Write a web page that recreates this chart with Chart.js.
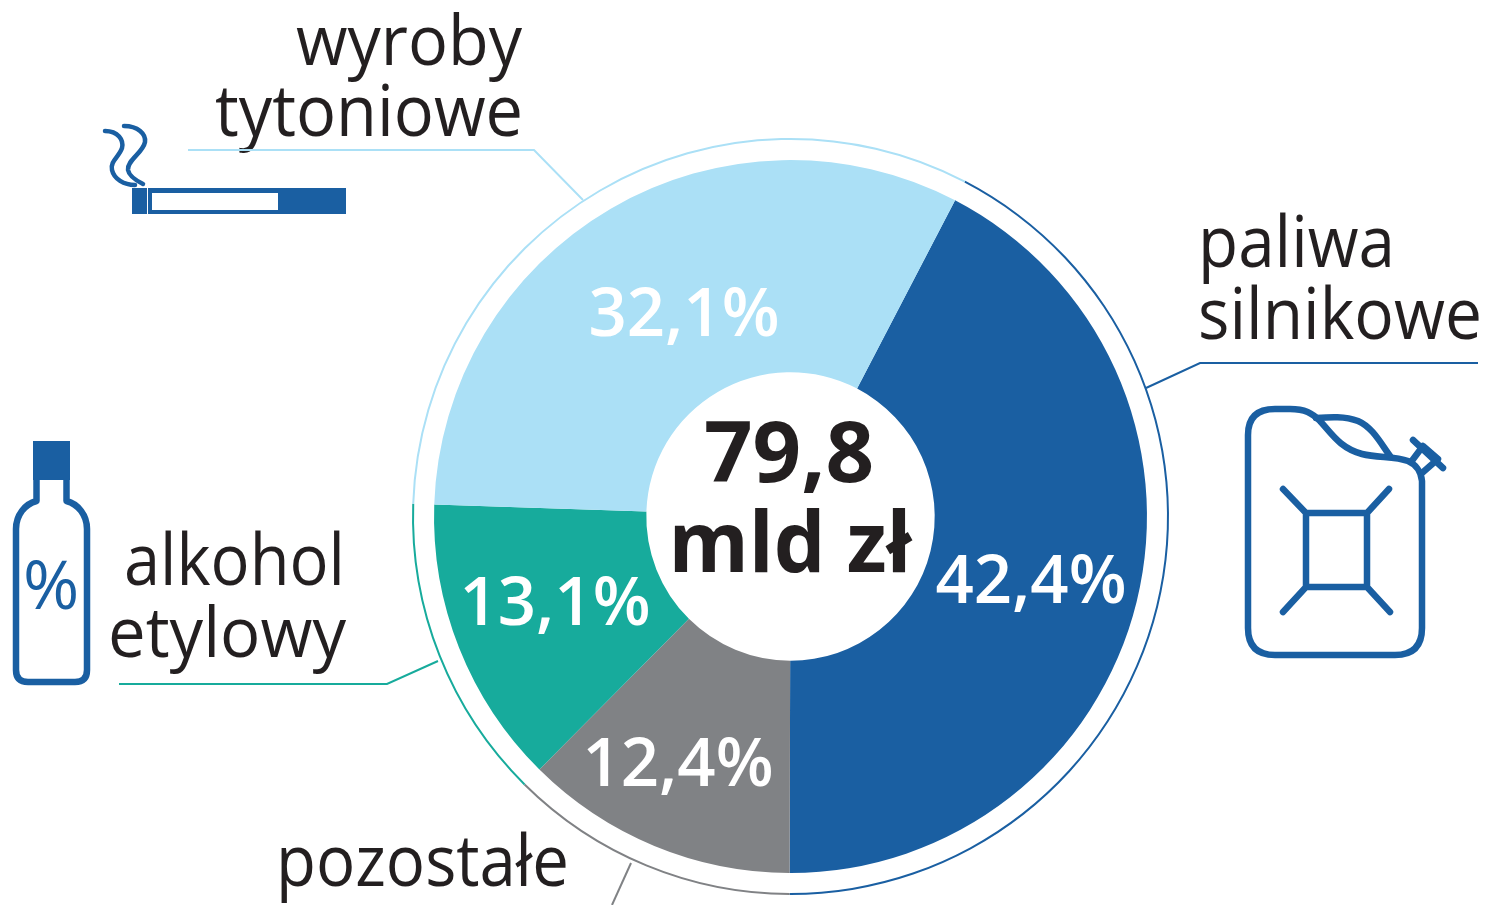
<!DOCTYPE html>
<html lang="pl"><head><meta charset="utf-8">
<style>html,body{margin:0;padding:0;background:#fff;overflow:hidden}canvas{display:block}</style>
<script src="https://cdn.jsdelivr.net/npm/chart.js@4"></script>
</head><body><canvas id="c" width="1485" height="905"></canvas>
<script>
const categories = ["paliwa silnikowe","pozostałe","alkohol etylowy","wyroby tytoniowe"];
const shares = [42.4,12.4,13.1,32.1];
const colors = ["#1a5fa2","#808285","#17ab9c","#abe0f6"];
const shareLabels = ["42,4%","12,4%","13,1%","32,1%"];
const centerLines = ["79,8","mld zł"];
const FONT='"Open Sans"', INK='#231f20', BLUE='#1a5fa2';

function txt(ctx,s,x,y,size,align,maxW,weight,color){
  ctx.font=`${weight||400} ${size}px ${FONT}`;ctx.textAlign=align;ctx.textBaseline='alphabetic';
  ctx.fillStyle=color||INK;
  if(maxW)ctx.fillText(s,x,y,maxW);else ctx.fillText(s,x,y);
}
function line(ctx,pts,color,w){
  ctx.strokeStyle=color;ctx.lineWidth=w;ctx.lineJoin='miter';ctx.lineCap='butt';ctx.beginPath();
  pts.forEach((p,i)=>i?ctx.lineTo(p[0],p[1]):ctx.moveTo(p[0],p[1]));ctx.stroke();
}
const decor={id:'decor',afterDraw(chart){
  const ctx=chart.ctx;ctx.save();
  const sl=[[1031,603],[678,786],[555,625],[684,336]];
  shareLabels.forEach((s,i)=>txt(ctx,s,sl[i][0],sl[i][1],67,'center',null,600,'#fff'));
  txt(ctx,centerLines[0],789,482,85,'center',170,700,INK);
  txt(ctx,centerLines[1],790,572,85,'center',243,700,INK);
  txt(ctx,'wyroby',522,65,70,'right',226);
  txt(ctx,'tytoniowe',523,136,71,'right',308);
  txt(ctx,'paliwa',1198,267,71,'left',197);
  txt(ctx,'silnikowe',1198,339,71,'left',284);
  txt(ctx,'alkohol',124,585,71,'left',221);
  txt(ctx,'etylowy',108,657,70,'left',238);
  txt(ctx,'pozostałe',276,886,71,'left',293);
  line(ctx,[[188,150],[534,150],[583,200]],colors[3],2);
  line(ctx,[[1478,363],[1200,363],[1146,388]],colors[0],2);
  line(ctx,[[119,684],[387,684],[438,661]],colors[2],2);
  line(ctx,[[631,863],[612,905]],colors[1],2);
  // cigarette
  ctx.fillStyle=BLUE;
  ctx.fillRect(132,188,15,26);ctx.fillRect(148,188,198,26);
  ctx.fillStyle='#fff';ctx.fillRect(152,193,126,17);
  ctx.strokeStyle=BLUE;ctx.lineWidth=4.5;ctx.lineCap='round';ctx.lineJoin='round';
  ctx.stroke(new Path2D('M105 131C118 131 124 140 122 148C119 157 110 161 112 170C114 179 124 185 135 185'));
  ctx.stroke(new Path2D('M124 126C138 126 146 134 145 142C143 153 127 160 128 170C129 176 137 181 143 184'));
  // jerrycan
  ctx.lineWidth=6.5;
  ctx.stroke(new Path2D('M1422 481V628Q1422 655 1395 655H1275Q1248 655 1248 628V435Q1248 409 1275 409H1290C1305 409 1312 413 1320 421C1332 434 1340 448 1362 454C1378 458 1395 456 1408 461C1415 464 1421 471 1422 481Z'));
  ctx.stroke(new Path2D('M1316 418C1330 417 1345 416 1358 421C1372 427 1380 442 1390 456'));
  ctx.stroke(new Path2D('M1306 513H1367V587H1306ZM1306 513L1283 489M1367 513L1389 489M1306 587L1283 612M1367 587L1390 612'));
  ctx.stroke(new Path2D('M1411 462L1423 446L1438 459L1422 473'));
  ctx.stroke(new Path2D('M1413 440L1443 468'));
  // bottle
  ctx.fillStyle=BLUE;ctx.fillRect(33,441,37,39);
  ctx.lineWidth=6.5;ctx.lineCap='butt';ctx.lineJoin='round';
  ctx.stroke(new Path2D('M36.5 478V501C25 504 16 515 16 529V670Q16 682 28 682H75Q87 682 87 670V529C87 515 78 504 66.5 501V478'));
  txt(ctx,'%',51,609,68,'center',60,400,BLUE);
  ctx.restore();
}};
new Chart(document.getElementById('c'),{
  type:'doughnut',
  data:{labels:categories,datasets:[
    {data:shares,backgroundColor:colors,borderWidth:0,weight:2},
    {data:shares,backgroundColor:'rgba(0,0,0,0)',borderWidth:0,weight:20},
    {data:shares,backgroundColor:colors,borderWidth:0,weight:212}
  ]},
  options:{responsive:false,animation:false,rotation:27.5,cutout:'38.1%',
    layout:{padding:{left:96,right:0,top:138,bottom:10}},
    plugins:{legend:{display:false},tooltip:{enabled:false}}},
  plugins:[decor]
});
</script></body></html>
